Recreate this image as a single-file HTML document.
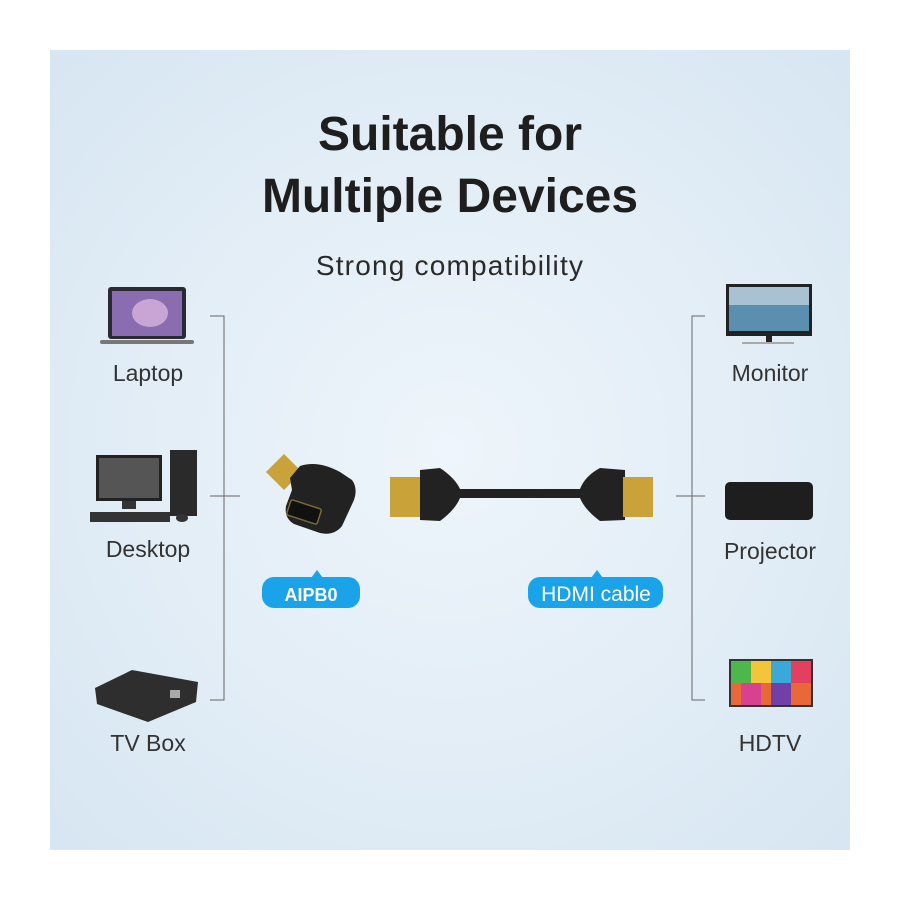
<!DOCTYPE html>
<html><head><meta charset="utf-8"><style>
html,body{margin:0;padding:0;background:#fff;width:900px;height:900px;overflow:hidden}
.panel{position:absolute;left:50px;top:50px;width:800px;height:800px;background:radial-gradient(ellipse at 50% 50%,#eef5fb 0%,#e2edf6 55%,#d6e6f2 100%)}
.t{position:absolute;font-family:"Liberation Sans",sans-serif;color:#222;text-align:center}
</style></head><body>
<div class="panel"></div>
<div class="t" style="left:0;width:900px;top:104px;font-size:48px;font-weight:bold;line-height:62px;color:#1e1e1e">Suitable for<br>Multiple Devices</div>
<div class="t" style="left:0;width:900px;top:250px;font-size:28px;letter-spacing:1.2px;color:#2a2a2a">Strong compatibility</div>
<div class="t" style="left:68px;width:160px;top:360px;font-size:23px;color:#333">Laptop</div>
<div class="t" style="left:68px;width:160px;top:536px;font-size:23px;color:#333">Desktop</div>
<div class="t" style="left:68px;width:160px;top:730px;font-size:23px;color:#333">TV Box</div>
<div class="t" style="left:690px;width:160px;top:360px;font-size:23px;color:#333">Monitor</div>
<div class="t" style="left:690px;width:160px;top:538px;font-size:23px;color:#333">Projector</div>
<div class="t" style="left:690px;width:160px;top:730px;font-size:23px;color:#333">HDTV</div>
<svg width="900" height="900" style="position:absolute;left:0;top:0">
<g stroke="#666" stroke-width="1" fill="none">
<path d="M210 316H224V700H210M210 496H240"/>
<path d="M705 316H692V700H705M676 496H705"/>
</g>
<rect x="108" y="287" width="78" height="52" rx="3" fill="#2a2a33"/>
<rect x="112" y="291" width="70" height="45" fill="#8a6db0"/>
<ellipse cx="150" cy="313" rx="18" ry="14" fill="#c9a5d6"/>
<rect x="100" y="340" width="94" height="4" rx="2" fill="#777"/>
<rect x="96" y="455" width="66" height="46" fill="#222"/>
<rect x="99" y="458" width="60" height="40" fill="#555"/>
<rect x="122" y="501" width="14" height="8" fill="#333"/>
<rect x="90" y="512" width="80" height="10" fill="#333"/>
<rect x="170" y="450" width="27" height="66" fill="#2a2a2a"/>
<ellipse cx="182" cy="518" rx="6" ry="4" fill="#333"/>
<path d="M95 688L132 670L198 682L196 702L148 722L97 704Z" fill="#2e2e2e"/>
<rect x="170" y="690" width="10" height="8" fill="#aaa"/>
<rect x="726" y="284" width="86" height="52" fill="#222"/>
<rect x="729" y="287" width="80" height="44" fill="#5a8fb0"/>
<rect x="729" y="287" width="80" height="18" fill="#a9c2d3"/>
<rect x="766" y="336" width="6" height="6" fill="#222"/>
<rect x="742" y="342" width="52" height="2" fill="#aaa"/>
<rect x="725" y="482" width="88" height="38" rx="5" fill="#1e1e1e"/>
<rect x="729" y="659" width="84" height="48" fill="#333"/>
<rect x="731" y="661" width="80" height="44" fill="#e8683a"/>
<rect x="731" y="661" width="20" height="22" fill="#4cb84c"/>
<rect x="751" y="661" width="20" height="22" fill="#f2c53a"/>
<rect x="771" y="661" width="20" height="22" fill="#3aa8d8"/>
<rect x="791" y="661" width="20" height="22" fill="#e34060"/>
<rect x="741" y="683" width="20" height="22" fill="#d84090"/>
<rect x="771" y="683" width="20" height="22" fill="#7040a8"/>
<!-- adapter -->
<path d="M266 472L284 454L302 472L284 490Z" fill="#c9a23a"/>
<path d="M290 478L300 466Q318 460 340 472L352 480Q358 488 354 500L342 526Q334 536 320 533L294 524Q284 518 286 506L292 490Z" fill="#222"/>
<rect x="288" y="504" width="32" height="16" rx="2" fill="#111" stroke="#7a6a3a" stroke-width="1.5" transform="rotate(18 304 512)"/>
<!-- cable -->
<rect x="390" y="477" width="32" height="40" fill="#c9a23a"/>
<path d="M420 470L440 468Q455 478 460 489L520 489L520 498L460 498Q455 510 440 521L420 520Z" fill="#222"/>
<path d="M520 489L580 489Q585 476 600 468L625 470L625 520L600 521Q585 510 580 498L520 498Z" fill="#222"/>
<rect x="623" y="477" width="30" height="40" fill="#c9a23a"/>
<path d="M311 578L317 570L323 578Z" fill="#1aa3e8"/>
<rect x="262" y="577" width="98" height="31" rx="12" fill="#1aa3e8"/>
<path d="M591 578L597 570L603 578Z" fill="#1aa3e8"/>
<rect x="528" y="577" width="135" height="31" rx="12" fill="#1aa3e8"/>
<text x="311" y="601" text-anchor="middle" font-family="Liberation Sans,sans-serif" font-size="18" font-weight="bold" fill="#fff">AIPB0</text>
<text x="596" y="601" text-anchor="middle" font-family="Liberation Sans,sans-serif" font-size="21" fill="#fff">HDMI cable</text>
</svg>
</body></html>
